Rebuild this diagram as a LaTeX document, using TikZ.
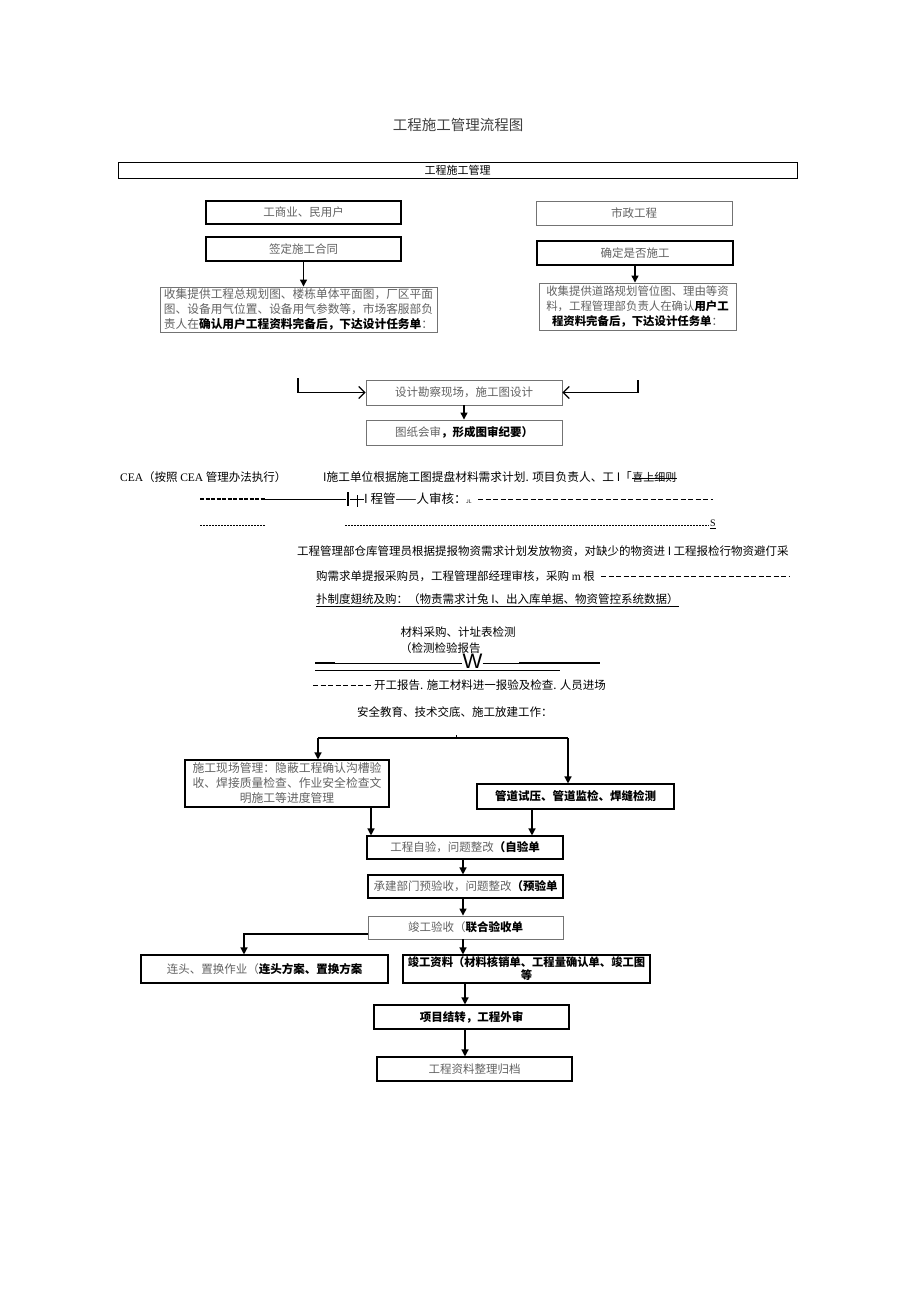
\documentclass[tikz,border=0pt]{standalone}
\usepackage{fontspec}
\setmainfont{Noto Sans CJK SC}
\newfontfamily\latinserif{Liberation Serif}
\newfontfamily\latinsans{Liberation Sans}
\usetikzlibrary{arrows.meta}
\definecolor{tx}{gray}{0.38}
\tikzset{
  bx/.style={draw, line width=1.1pt, inner sep=0pt, align=center, text=tx, font=\fontsize{11.5}{14}\selectfont},
  lbx/.style={bx, draw=black!55, line width=0.9pt},
  arr/.style={-{Triangle[length=7pt,width=7pt]}, line width=1.3pt},
  oarr/.style={-{Straight Barb[length=6pt,width=12pt]}, line width=1.2pt},
  ln/.style={anchor=west, inner sep=0pt, font=\fontsize{11.5}{13}\selectfont},
  dsh/.style={line width=0.6pt, dash pattern=on 5pt off 2.5pt},
}
\begin{document}
\begin{tikzpicture}[x=1pt,y=-1pt]
\useasboundingbox (0,0) rectangle (920,1301);
% title and header
\node[font=\fontsize{14.5}{16}\selectfont, text=black!75] (title) at (458,125) {工程施工管理流程图};
\node[draw, line width=0.9pt, minimum width=679, minimum height=16, inner sep=0pt, font=\fontsize{11}{13}\selectfont] (hdr) at (457.5,170) {工程施工管理};
% left column
\node[bx, minimum width=195, minimum height=23] (a1) at (303.5,212.5) {工商业、民用户};
\node[bx, minimum width=195, minimum height=24] (a2) at (303.5,249) {签定施工合同};
\node[lbx, minimum width=277, minimum height=45, font=\fontsize{11.7}{15}\selectfont] (a3) at (298.5,309.5)
  {收集提供工程总规划图、楼栋单体平面图，厂区平面\\图、设备用气位置、设备用气参数等，市场客服部负\\责人在\textcolor{black}{\textbf{确认用户工程资料完备后，下达设计任务单}}：};
\draw[arr] (a2) -- (a2 |- a3.north);
% right column
\node[lbx, minimum width=196, minimum height=24] (b1) at (634,213) {市政工程};
\node[bx, line width=1.4pt, minimum width=196, minimum height=24] (b2) at (635,253) {确定是否施工};
\node[lbx, minimum width=197, minimum height=47, font=\fontsize{11.4}{15}\selectfont] (b3) at (637.5,306.5)
  {收集提供道路规划管位图、理由等资\\料，工程管理部负责人在确认\textcolor{black}{\textbf{用户工}}\\\textcolor{black}{\textbf{程资料完备后，下达设计任务单}}：};
\draw[arr] (b2) -- (b2 |- b3.north);
% design
\node[lbx, minimum width=196, minimum height=25] (c1) at (464,392.5) {设计勘察现场，施工图设计};
\node[lbx, minimum width=196, minimum height=25] (c2) at (464,432.5) {图纸会审\textcolor{black}{\textbf{，形成图审纪要）}}};
\coordinate (cl) at (298,378);
\coordinate (cr) at (638,380);
\draw[oarr] (cl) |- (c1.west);
\draw[oarr] (cr) |- (c1.east);
\draw[arr] (c1) -- (c2);
% text section
\node[ln] (t1) at (120,477) {{\latinserif CEA}（按照 {\latinserif CEA} 管理办法执行）};
\node[ln, font=\fontsize{11.7}{13}\selectfont] (t2) at (323,477) {I施工单位根据施工图提盘材料需求计划. 项目负责人、工 I「};
\node[ln, font=\fontsize{11}{12}\selectfont] (t2b) at (t2.east) {喜上细则};
\draw[line width=0.5pt] ([yshift=-1pt]t2b.west) -- ([yshift=-1pt]t2b.east);
% line 2
\draw[line width=1.5pt, dash pattern=on 4pt off 1.5pt] (200,499) -- (265,499);
\draw[line width=0.8pt] (265,499) -- (346,499);
\draw[line width=1.4pt] (348,492) -- (348,506);
\draw[line width=0.7pt] (350,499) -- (364,499);
\draw[line width=0.7pt] (357,495) -- (357,507);
\node[ln, font=\fontsize{12.5}{13}\selectfont] (t3) at (364,499) {I 程管——人审核：};
\node[ln, font=\fontsize{5}{6}\selectfont] (t3b) at (466,502) {JL};
\draw[dsh] (478,499) -- (713,499);
% line 3
\draw[line width=0.5pt, dash pattern=on 2pt off 1pt] (200,525) -- (265,525);
\draw[line width=0.5pt, dash pattern=on 2pt off 1pt] (345,525) -- (709,525);
\node[ln, font=\fontsize{10}{12}\selectfont\latinserif] (t4) at (710,524) {\underline{S}};
% lines 4-6
\node[ln] (t5) at (297,551) {工程管理部仓库管理员根据提报物资需求计划发放物资，对缺少的物资进 I 工程报检行物资避仃采};
\node[ln] (t6) at (316,576) {购需求单提报采购员，工程管理部经理审核，采购 {\latinserif m} 根};
\draw[dsh] (t6.east) ++(6,0) -- (790,576);
\node[ln] (t7) at (316,600) {\underline{扑制度翅统及购：（物责需求计兔 I、出入库单据、物资管控系统数据）}};
% material section
\node[font=\fontsize{11.5}{13}\selectfont, inner sep=0pt] (m1) at (458,632) {材料采购、计址表检测};
\node[ln] (m2) at (400,648) {（检测检验报告};
\node[inner sep=0pt, font=\fontsize{21}{21}\selectfont\latinsans] (w) at (472.5,661) {W};
\draw[line width=1.8pt] (315,663) -- (335,663);
\draw[line width=0.7pt] (335,663) -- (w.west |- 0,663);
\draw[line width=0.7pt] (w.east |- 0,663) -- (519,663);
\draw[line width=1.8pt] (519,663) -- (600,663);
\draw[line width=1pt] (315,670.5) -- (560,670.5);
\draw[dsh] (313,685) -- (373,685);
\node[ln] (m3) at (374,685) {开工报告. 施工材料进一报验及检查. 人员进场};
\node[ln] (m4) at (357,712) {安全教育、技术交底、施工放建工作：};
% branch
\coordinate (bl) at (318,738);
\coordinate (br) at (568,738);
\draw[line width=1.3pt] (bl) -- (br);
\draw[line width=0.8pt] (456,735) -- (456,738);
\node[bx, minimum width=204, minimum height=47, font=\fontsize{11.8}{15}\selectfont] (d1) at (287,783.5)
  {施工现场管理：隐蔽工程确认沟槽验\\收、焊接质量检查、作业安全检查文\\明施工等进度管理};
\node[bx, minimum width=197, minimum height=25, text=black, font=\fontsize{11.5}{14}\selectfont\bfseries] (d2) at (575.5,796.5) {管道试压、管道监检、焊缝检测};
\draw[arr] (bl) -- (bl |- d1.north);
\draw[arr] (br) -- (br |- d2.north);
% checks
\node[bx, minimum width=196, minimum height=23] (e1) at (465,847.5) {工程自验，问题整改\textcolor{black}{\textbf{（自验单}}};
\coordinate (x1) at (371,0);
\coordinate (x2) at (532,0);
\draw[arr] (d1.south -| x1) -- (e1.north -| x1);
\draw[arr] (d2.south -| x2) -- (e1.north -| x2);
\node[bx, minimum width=195, minimum height=23] (e2) at (465.5,886.5) {承建部门预验收，问题整改\textcolor{black}{\textbf{（预验单}}};
\node[lbx, minimum width=195, minimum height=23] (e3) at (465.5,927.5) {竣工验收（\textcolor{black}{\textbf{联合验收单}}};
\coordinate (x4) at (463,0);
\draw[arr] (e1.south -| x4) -- (e2.north -| x4);
\draw[arr] (e2.south -| x4) -- (e3.north -| x4);
% completion
\node[bx, minimum width=247, minimum height=28] (f1) at (264.5,969) {连头、置换作业（\textcolor{black}{\textbf{连头方案、置换方案}}};
\node[bx, minimum width=247, minimum height=28, text=black, font=\fontsize{11.3}{13}\selectfont\bfseries] (f2) at (526.5,969) {竣工资料（材料核销单、工程量确认单、竣工图\\等};
\coordinate (x3) at (244,0);
\draw[arr] ([yshift=-6.5pt]e3.west) -| (f1.north -| x3);
\draw[arr] (e3.south -| x4) -- (f2.north -| x4);
\node[bx, minimum width=195, minimum height=24, text=black, font=\fontsize{11.5}{14}\selectfont\bfseries] (g1) at (471.5,1017) {项目结转，工程外审};
\node[bx, minimum width=195, minimum height=24] (g2) at (474.5,1069) {工程资料整理归档};
\coordinate (x5) at (465,0);
\draw[arr] (f2.south -| x5) -- (g1.north -| x5);
\draw[arr] (g1.south -| x5) -- (g2.north -| x5);
\end{tikzpicture}
\end{document}
